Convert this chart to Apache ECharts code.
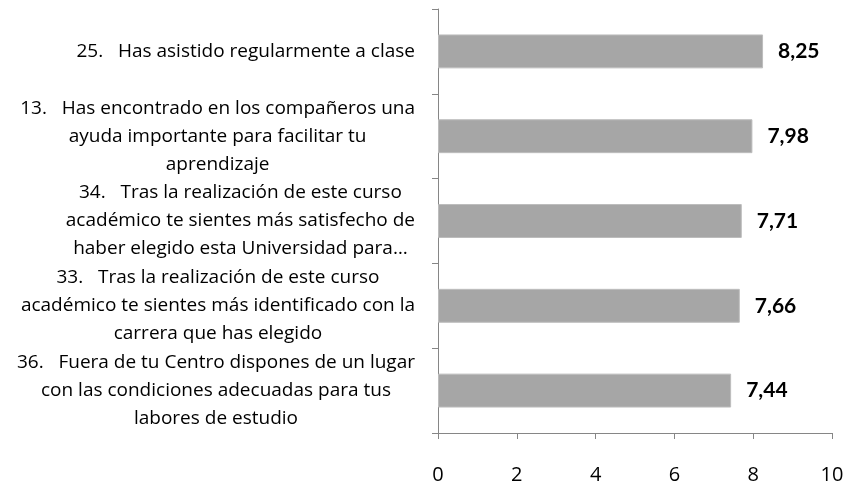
<!DOCTYPE html>
<html>
<head>
<meta charset="utf-8">
<script src="https://cdn.jsdelivr.net/npm/echarts@6/dist/echarts.min.js"></script>
<style>
  html, body { margin: 0; padding: 0; background: #fff; }
  #chart { width: 847px; height: 486px; }
</style>
</head>
<body>
<div id="chart"></div>
<script>
// datos de la figura (de arriba a abajo)
const categories = [
  '25.   Has asistido regularmente a clase',
  '13.   Has encontrado en los compañeros una\nayuda importante para facilitar tu\naprendizaje',
  '34.   Tras la realización de este curso\nacadémico te sientes más satisfecho de\nhaber elegido esta Universidad para…',
  '33.   Tras la realización de este curso\nacadémico te sientes más identificado con la\ncarrera que has elegido',
  '36.   Fuera de tu Centro dispones de un lugar\ncon las condiciones adecuadas para tus\nlabores de estudio'
];
const values = [8.25, 7.98, 7.71, 7.66, 7.44];
const xTicks = [0, 2, 4, 6, 8, 10];

const chart = echarts.init(document.getElementById('chart'));
const font = '"Open Sans", Lato, sans-serif';

chart.setOption({
  animation: false,
  grid: { left: 438, right: 15, top: 9, bottom: 53 },
  xAxis: {
    type: 'value',
    min: xTicks[0],
    max: xTicks[xTicks.length - 1],
    interval: 2,
    splitLine: { show: false },
    axisLine: { show: true, lineStyle: { color: '#868686', width: 1 } },
    axisTick: { show: true, length: 6, lineStyle: { color: '#868686' } },
    axisLabel: { margin: 32, color: '#000', fontSize: 20, fontFamily: font }
  },
  yAxis: {
    type: 'category',
    inverse: true,
    data: categories,
    axisLine: { show: true, lineStyle: { color: '#868686', width: 1 } },
    axisTick: { show: true, length: 6, lineStyle: { color: '#868686' } },
    axisLabel: {
      margin: 23,
      formatter: v => v.split('\n').map(l => '{c|' + l + '}').join('\n'),
      rich: {
        c: { align: 'center', color: '#000', fontSize: 19, fontFamily: font, lineHeight: 28 }
      }
    }
  },
  series: [{
    type: 'bar',
    data: values,
    barCategoryGap: '60%',
    itemStyle: { color: '#a6a6a6', borderColor: '#bdbdbd', borderWidth: 1 },
    label: {
      show: true,
      position: 'right',
      distance: 15,
      formatter: p => p.value.toFixed(2).replace('.', ','),
      color: '#000',
      fontWeight: 'bold',
      fontSize: 21,
      fontFamily: 'Lato, sans-serif'
    }
  }]
});
</script>
</body>
</html>
